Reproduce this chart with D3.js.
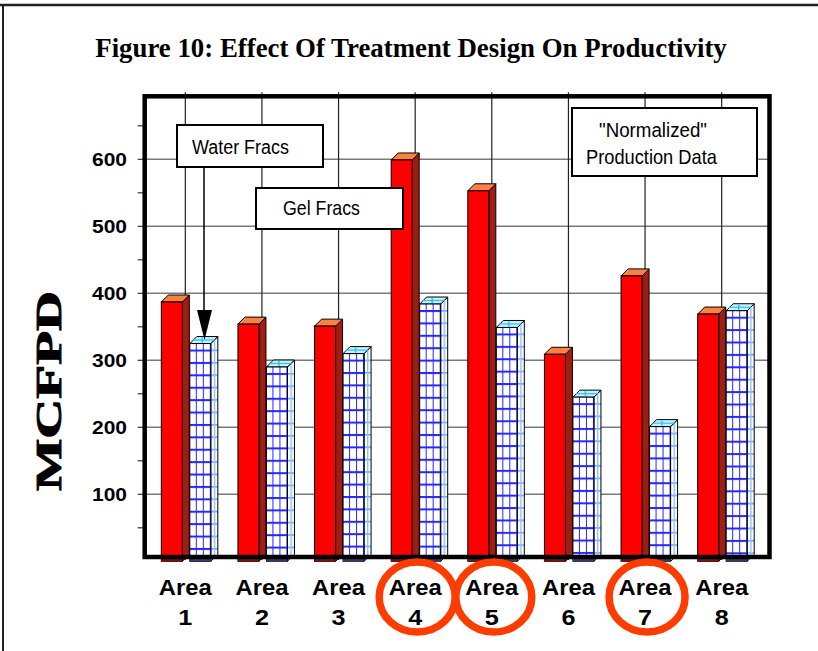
<!DOCTYPE html>
<html>
<head>
<meta charset="utf-8">
<script src="https://cdn.jsdelivr.net/npm/d3@7"></script>
<style>
  body { margin: 0; background: #fff; }
  svg { display: block; }
</style>
</head>
<body>
<div id="vis"></div>
<script>
// chart data
var areas = ['Area 1', 'Area 2', 'Area 3', 'Area 4', 'Area 5', 'Area 6', 'Area 7', 'Area 8'];
var gelFracs = [387, 354, 351, 599, 553, 309, 426, 369];
var waterFracs = [325, 290, 310, 384, 349, 245, 201, 374];
var yTicks = [100, 200, 300, 400, 500, 600];
var circled = ['Area 4', 'Area 5', 'Area 7'];

var width = 818, height = 651;
var depth = 7;        // 3d offset of the bars
var barW = 21;

var svg = d3.select('#vis').append('svg')
    .attr('width', width)
    .attr('height', height);

var defs = svg.append('defs');

// stretch a text horizontally to a given width, keeping its anchor point
var fit = function(sel, len, pre) {
    sel.each(function() {
        var w = this.getComputedTextLength();
        var x = +this.getAttribute('x') || 0, y = +this.getAttribute('y') || 0;
        var k = len / w;
        this.setAttribute('transform', (pre || '') + 'translate(' + x + ',' + y + ') scale(' + k + ',1) translate(' + (-x) + ',' + (-y) + ')');
    });
};

// outer frame lines
svg.append('line').attr('x1', 0).attr('x2', width).attr('y1', 5).attr('y2', 5)
    .attr('stroke', '#222').attr('stroke-width', 2.5);
svg.append('line').attr('x1', 3).attr('x2', 3).attr('y1', 5).attr('y2', height)
    .attr('stroke', '#222').attr('stroke-width', 2);

svg.append('text')
    .attr('x', 411).attr('y', 57)
    .attr('text-anchor', 'middle')
    .attr('font-family', '"Liberation Serif", "Times New Roman", serif')
    .attr('font-weight', 'bold')
    .attr('font-size', 28)
    .text('Figure 10: Effect Of Treatment Design On Productivity')
    .call(fit, 632);

var plot = { left: 144.7, top: 96.3, right: 769.5, bottom: 557 };

var xScale = d3.scaleBand()
    .domain(areas)
    .range([147, 760]);

var yScale = d3.scaleLinear()
    .domain([0, 700])
    .range([561.3, 92.3]);

var center = function(a) { return xScale(a) + xScale.bandwidth() / 2; };

// plot background
svg.append('rect')
    .attr('x', plot.left).attr('y', plot.top)
    .attr('width', plot.right - plot.left).attr('height', plot.bottom - plot.top)
    .attr('fill', '#fff');

// horizontal grid
svg.append('g').selectAll('line').data(yTicks).enter().append('line')
    .attr('x1', plot.left).attr('x2', plot.right)
    .attr('y1', function(d) { return yScale(d); })
    .attr('y2', function(d) { return yScale(d); })
    .attr('stroke', '#7a7a7a').attr('stroke-width', 1.6);

// vertical grid at category centres
svg.append('g').selectAll('line').data(areas).enter().append('line')
    .attr('x1', center).attr('x2', center)
    .attr('y1', plot.top - 4).attr('y2', plot.bottom + 3)
    .attr('stroke', '#222').attr('stroke-width', 1.2);

// left ticks every 50
svg.append('g').selectAll('line').data(d3.range(50, 700, 50)).enter().append('line')
    .attr('x1', plot.left - 7).attr('x2', plot.left)
    .attr('y1', function(d) { return yScale(d); })
    .attr('y2', function(d) { return yScale(d); })
    .attr('stroke', '#333').attr('stroke-width', 1.2);

// patterns for the water frac bars
var gridH = 12.4, gridW = 7;
var wx = function(i) { return center(areas[i]) + 4.5; };
var gx = function(i) { return center(areas[i]) - 24; };

waterFracs.forEach(function(v, i) {
    var p = defs.append('pattern')
        .attr('id', 'grid' + i)
        .attr('patternUnits', 'userSpaceOnUse')
        .attr('x', wx(i)).attr('y', yScale(v) + 6)
        .attr('width', gridW).attr('height', gridH);
    p.append('rect').attr('width', gridW).attr('height', gridH).attr('fill', '#fff');
    p.append('rect').attr('x', 0).attr('y', 0).attr('width', gridW).attr('height', 2).attr('fill', '#2626ff');
    p.append('rect').attr('x', gridW - 1).attr('y', 0).attr('width', 2).attr('height', gridH).attr('fill', '#2626ff');

    var s = defs.append('pattern')
        .attr('id', 'side' + i)
        .attr('patternUnits', 'userSpaceOnUse')
        .attr('x', wx(i) + barW).attr('y', yScale(v) + 6)
        .attr('width', depth).attr('height', gridH);
    s.append('rect').attr('width', depth).attr('height', gridH).attr('fill', '#fff');
    s.append('rect').attr('x', 0).attr('y', 0).attr('width', depth).attr('height', 1.6).attr('fill', '#6aa8ff');
    s.append('rect').attr('x', 3).attr('y', 0).attr('width', 1.4).attr('height', gridH).attr('fill', '#8cbcff');
});

var drawBar = function(g, x, v, front, side, top) {
    var y0 = yScale(0), y1 = yScale(v);
    g.append('path')
        .attr('d', 'M' + (x + barW) + ',' + y1 + 'L' + (x + barW + depth) + ',' + (y1 - depth) +
            'L' + (x + barW + depth) + ',' + (y0 - depth) + 'L' + (x + barW) + ',' + y0 + 'Z')
        .attr('fill', side).attr('stroke', '#000').attr('stroke-width', 1);
    g.append('path')
        .attr('d', 'M' + x + ',' + y1 + 'L' + (x + depth) + ',' + (y1 - depth) +
            'L' + (x + barW + depth) + ',' + (y1 - depth) + 'L' + (x + barW) + ',' + y1 + 'Z')
        .attr('fill', top).attr('stroke', '#000').attr('stroke-width', 1);
    g.append('rect')
        .attr('x', x).attr('y', y1)
        .attr('width', barW).attr('height', y0 - y1)
        .attr('fill', front).attr('stroke', '#000').attr('stroke-width', 1);
};

var bars = svg.append('g');
areas.forEach(function(a, i) {
    drawBar(bars, gx(i), gelFracs[i], '#ff0000', '#a11d12', '#ff8040');
    var tg = bars.append('g');
    drawBar(tg, wx(i), waterFracs[i], 'url(#grid' + i + ')', 'url(#side' + i + ')', '#c6f2ff');
    // cyan cross on the top face
    var ty = yScale(waterFracs[i]);
    tg.append('line')
        .attr('x1', wx(i) + barW / 2 + 2).attr('x2', wx(i) + barW / 2 + 2)
        .attr('y1', ty - depth + 1).attr('y2', ty - 1)
        .attr('stroke', '#29c4ff').attr('stroke-width', 1.5);
    tg.append('line')
        .attr('x1', wx(i) + 3).attr('x2', wx(i) + barW + 4)
        .attr('y1', ty - 3.5).attr('y2', ty - 3.5)
        .attr('stroke', '#29c4ff').attr('stroke-width', 1.2);
    // dark shadow strip under the frame
    bars.append('rect').attr('x', gx(i)).attr('y', 558).attr('width', barW).attr('height', 3.5).attr('fill', '#7a1010');
    bars.append('rect').attr('x', wx(i)).attr('y', 558).attr('width', barW).attr('height', 3.5).attr('fill', '#3a3a6a');
});

// plot frame
svg.append('rect')
    .attr('x', plot.left).attr('y', plot.top)
    .attr('width', plot.right - plot.left).attr('height', plot.bottom - plot.top)
    .attr('fill', 'none').attr('stroke', '#000').attr('stroke-width', 4.5);

// y tick labels
svg.append('g').selectAll('text').data(yTicks).enter().append('text')
    .attr('x', 127)
    .attr('y', function(d) { return yScale(d) + 6.5; })
    .attr('text-anchor', 'end')
    .attr('font-family', '"Liberation Sans", Arial, sans-serif')
    .attr('font-weight', 'bold')
    .attr('font-size', 18)
    .text(function(d) { return d; })
    .call(fit, 35);

svg.append('text')
    .attr('x', 0).attr('y', 0)
    .attr('text-anchor', 'middle')
    .attr('font-family', '"Liberation Serif", "Times New Roman", serif')
    .attr('font-weight', 'bold')
    .attr('font-size', 35)
    .attr('stroke', '#000').attr('stroke-width', 0.9)
    .text('MCFPD')
    .call(fit, 200, 'translate(61,391) rotate(-90) ');

// x labels, two lines
var xl = svg.append('g').selectAll('g').data(areas).enter().append('g')
    .attr('font-family', '"Liberation Sans", Arial, sans-serif')
    .attr('font-weight', 'bold')
    .attr('font-size', 22)
    .attr('text-anchor', 'middle');
xl.append('text')
    .attr('x', center).attr('y', 595)
    .text(function(d) { return d.split(' ')[0]; })
    .call(fit, 53);
xl.append('text')
    .attr('x', center).attr('y', 625)
    .text(function(d) { return d.split(' ')[1]; })
    .call(fit, 14);

// red circles round some of the areas
svg.append('g').selectAll('ellipse').data(circled).enter().append('ellipse')
    .attr('cx', function(d) { return center(d) + 2; })
    .attr('cy', 597)
    .attr('rx', 38).attr('ry', 35)
    .attr('fill', 'none')
    .attr('stroke', '#ff3c00')
    .attr('stroke-width', 7.5);

// annotation boxes
var boxFont = '"Liberation Sans", Arial, sans-serif';
var box = function(x, y, w, h) {
    svg.append('rect').attr('x', x).attr('y', y).attr('width', w).attr('height', h)
        .attr('fill', '#fff').attr('stroke', '#000').attr('stroke-width', 2);
};
var label = function(x, y, len, txt, anchor) {
    svg.append('text').attr('x', x).attr('y', y)
        .attr('text-anchor', anchor || 'start')
        .attr('font-family', boxFont).attr('font-size', 21)
        .text(txt)
        .call(fit, len);
};

// arrow from the water fracs box
svg.append('line').attr('x1', 204).attr('x2', 204).attr('y1', 167).attr('y2', 315)
    .attr('stroke', '#000').attr('stroke-width', 1.5);
svg.append('path').attr('d', 'M197,310L212,310L204.5,340Z').attr('fill', '#000');

box(177, 125, 146, 42);
label(192, 154, 97, 'Water Fracs');

box(256, 188, 147, 41);
label(283, 215, 77, 'Gel Fracs');

box(572, 108, 185, 68);
label(653, 137, 108, '"Normalized"', 'middle');
label(586, 164, 131, 'Production Data');
</script>
</body>
</html>
